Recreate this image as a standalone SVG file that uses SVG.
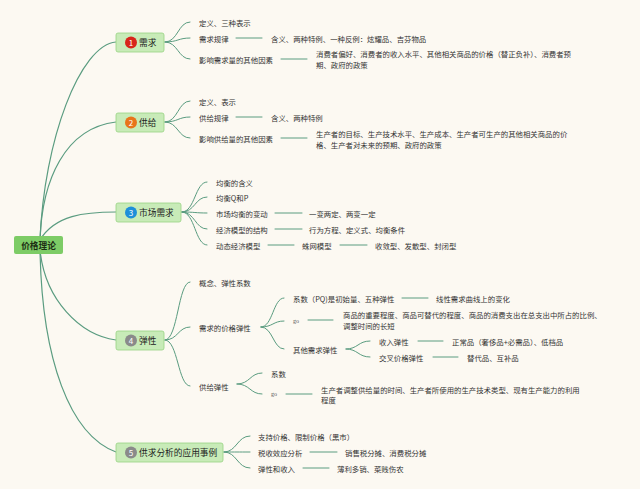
<svg xmlns="http://www.w3.org/2000/svg" width="640" height="489" viewBox="0 0 640 489">
<style>
text{font-family:"Noto Sans CJK SC","Noto Sans",sans-serif;fill:#333;dominant-baseline:central}
.t{font-size:7.4px}
.n{font-size:8.7px;fill:#222}
.r{font-size:8.7px;font-weight:bold;fill:#1d2e14}
.b{font-size:8px;fill:#fff;text-anchor:middle}
.g{font-family:"Liberation Serif",serif;font-size:6px;fill:#555}
.c{fill:none;stroke:#5a9c80;stroke-width:1;stroke-linecap:round}
.m{fill:none;stroke:#5a9c80;stroke-width:1.2}
.box{fill:#c8ebb8;stroke:#98d383;stroke-width:0.8}
</style>
<rect width="640" height="489" fill="#fcf9f2"/>
<g id="connectors">
<path class="m" d="M40 240 C44 140 80 45 116 42"/>
<path class="m" d="M40 240 C42 180 65 128 116 122"/>
<path class="m" d="M40 240 C55 215 85 212 116 212"/>
<path class="m" d="M40 250 C45 300 80 335 116 340"/>
<path class="m" d="M40 250 C42 360 70 435 116 452"/>
<path class="c" d="M165 42 C178 42 178 22 190 22 M165 42 C178 42 178 38 190 38 M165 42 C178 42 178 59 190 59"/>
<path class="c" d="M165 122 C178 122 178 101 190 101 M165 122 C178 122 178 117 190 117 M165 122 C178 122 178 138 190 138"/>
<path class="c" d="M182 212 C195 212 195 182 207 182 M182 212 C195 212 195 197 207 197 M182 212 C195 212 195 213 207 213 M182 212 C195 212 195 229 207 229 M182 212 C195 212 195 245 207 245"/>
<path class="c" d="M165 340 C178 340 178 282 190 282 M165 340 C178 340 178 327 190 327 M165 340 C178 340 178 386 190 386"/>
<path class="c" d="M261 327 C273 327 273 298 284 298 M261 327 C273 327 273 321 284 321 M261 327 C273 327 273 349 284 349"/>
<path class="c" d="M346 349 C358 349 358 341 370 341 M346 349 C358 349 358 357 370 357"/>
<path class="c" d="M237 384 C250 384 250 373 262 373 M237 384 C250 384 250 394 262 394"/>
<path class="c" d="M224 452 C237 452 237 436 250 436 M224 452 C237 452 237 452 250 452 M224 452 C237 452 237 468 250 468"/>
<path class="c" d="M236 38H262 M281 59H307 M236 117H262 M281 138H307 M275 213H302 M275 229H302 M268 245H294 M340 245H367 M402 298H428 M308 320H333 M418 341H443 M433 357H458 M286 394H312 M310 452H337 M303 468H329"/>
</g>
<g id="root">
<rect x="14" y="236" width="49" height="18" rx="2" fill="#7dcc66"/>
<text class="r" x="38.5" y="245" text-anchor="middle">价格理论</text>
</g>
<g id="node1">
<rect class="box" x="116" y="33" width="48" height="19" rx="2"/>
<circle cx="131" cy="42.5" r="6" fill="#d8251b"/>
<text class="b" x="131" y="42.5">1</text>
<text class="n" x="139" y="42.5">需求</text>
<text class="t" x="199" y="22">定义、三种表示</text>
<text class="t" x="199" y="38">需求规律</text>
<text class="t" x="271" y="38">含义、两种特例、一种反例：炫耀品、吉芬物品</text>
<text class="t" x="199" y="59">影响需求量的其他因素</text>
<text class="t" x="316" y="53">消费者偏好、消费者的收入水平、其他相关商品的价格（替正负补）、消费者预</text>
<text class="t" x="316" y="64">期、政府的政策</text>
</g>
<g id="node2">
<rect class="box" x="116" y="113" width="48" height="19" rx="2"/>
<circle cx="131" cy="122.5" r="6" fill="#e8741b"/>
<text class="b" x="131" y="122.5">2</text>
<text class="n" x="139" y="122.5">供给</text>
<text class="t" x="199" y="101">定义、表示</text>
<text class="t" x="199" y="117">供给规律</text>
<text class="t" x="271" y="117">含义、两种特例</text>
<text class="t" x="199" y="138">影响供给量的其他因素</text>
<text class="t" x="316" y="133">生产者的目标、生产技术水平、生产成本、生产者可生产的其他相关商品的价</text>
<text class="t" x="316" y="144">格、生产者对未来的预期、政府的政策</text>
</g>
<g id="node3">
<rect class="box" x="116" y="203" width="65" height="19" rx="2"/>
<circle cx="131" cy="212.5" r="6" fill="#1e8fd9"/>
<text class="b" x="131" y="212.5">3</text>
<text class="n" x="139" y="212.5">市场需求</text>
<text class="t" x="216" y="182">均衡的含义</text>
<text class="t" x="216" y="197">均衡Q和P</text>
<text class="t" x="216" y="213">市场均衡的变动</text>
<text class="t" x="309" y="213">一变两定、两变一定</text>
<text class="t" x="216" y="229">经济模型的结构</text>
<text class="t" x="309" y="229">行为方程、定义式、均衡条件</text>
<text class="t" x="216" y="245">动态经济模型</text>
<text class="t" x="302" y="245">蛛网模型</text>
<text class="t" x="375" y="245">收敛型、发散型、封闭型</text>
</g>
<g id="node4">
<rect class="box" x="116" y="331" width="48" height="19" rx="2"/>
<circle cx="131" cy="340.5" r="6" fill="#8a8a8a"/>
<text class="b" x="131" y="340.5">4</text>
<text class="n" x="139" y="340.5">弹性</text>
<text class="t" x="199" y="282">概念、弹性系数</text>
<text class="t" x="199" y="327">需求的价格弹性</text>
<text class="t" x="293" y="298">系数（PQ)是初始量、五种弹性</text>
<text class="t" x="436" y="298">线性需求曲线上的变化</text>
<text class="g" x="293" y="321">go</text>
<text class="t" x="343" y="314">商品的重要程度、商品可替代的程度、商品的消费支出在总支出中所占的比例、</text>
<text class="t" x="343" y="325">调整时间的长短</text>
<text class="t" x="293" y="349">其他需求弹性</text>
<text class="t" x="379" y="341">收入弹性</text>
<text class="t" x="452" y="341">正常品（奢侈品+必需品）、低档品</text>
<text class="t" x="379" y="357">交叉价格弹性</text>
<text class="t" x="467" y="357">替代品、互补品</text>
<text class="t" x="199" y="386">供给弹性</text>
<text class="t" x="271" y="373">系数</text>
<text class="g" x="271" y="394">go</text>
<text class="t" x="321" y="389">生产者调整供给量的时间、生产者所使用的生产技术类型、现有生产能力的利用</text>
<text class="t" x="321" y="399">程度</text>
</g>
<g id="node5">
<rect class="box" x="116" y="443" width="107" height="19" rx="2"/>
<circle cx="131" cy="452.5" r="6" fill="#8a8a8a"/>
<text class="b" x="131" y="452.5">5</text>
<text class="n" x="139" y="452.5">供求分析的应用事例</text>
<text class="t" x="258" y="436">支持价格、限制价格（黑市）</text>
<text class="t" x="258" y="452">税收效应分析</text>
<text class="t" x="345" y="452">销售税分摊、消费税分摊</text>
<text class="t" x="258" y="468">弹性和收入</text>
<text class="t" x="337" y="468">薄利多销、菜贱伤农</text>
</g>
</svg>
